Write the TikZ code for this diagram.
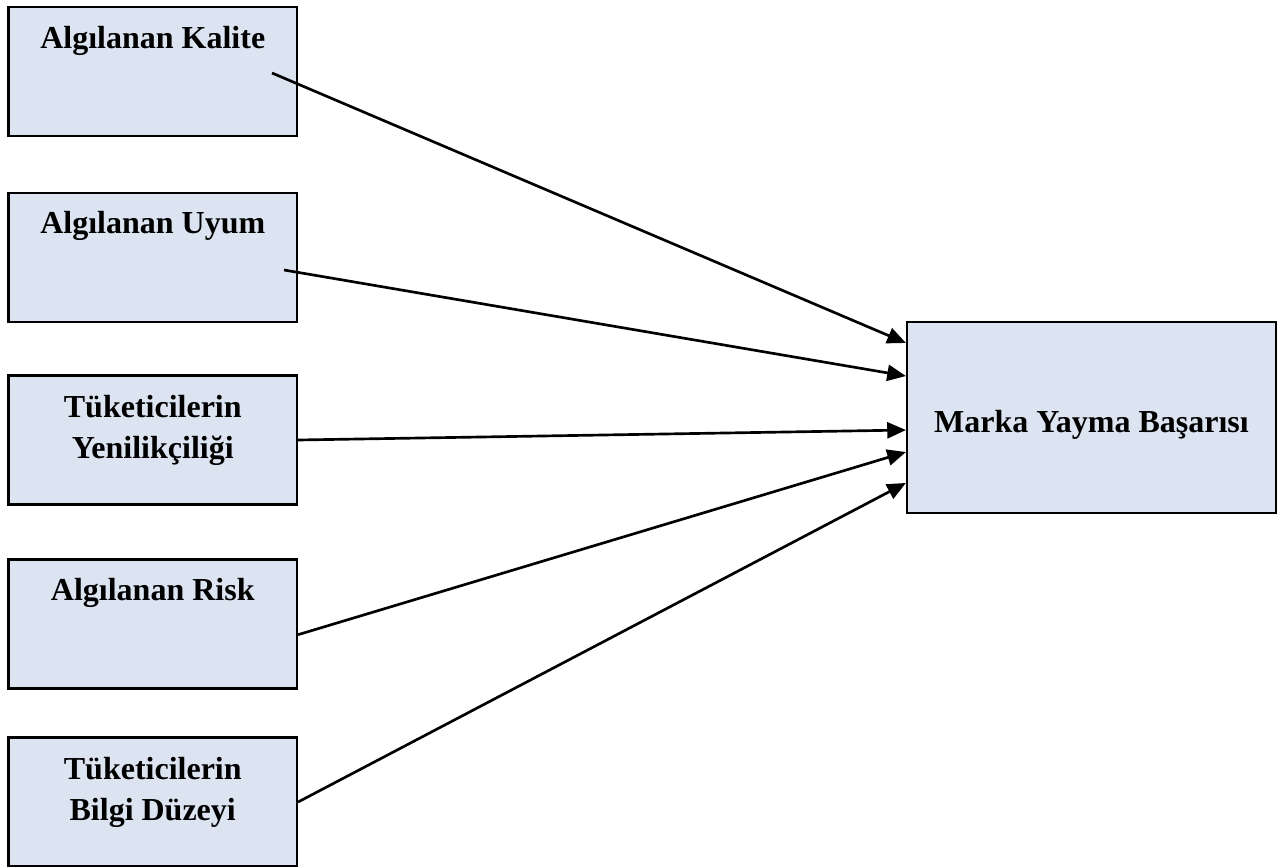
\documentclass[tikz,border=0pt]{standalone}
\usepackage{fontspec}
\setmainfont{Liberation Serif}
\usetikzlibrary{arrows.meta}

\begin{document}
\begin{tikzpicture}[x=0.75pt, y=-0.75pt,
  factor/.style={draw, line width=1.6pt, fill=boxblue, minimum width=216.4pt, minimum height=96.75pt, inner sep=0pt},
  ftext/.style={font=\bfseries\fontsize{24}{30.75}\selectfont, align=center, inner sep=0pt, anchor=base},
  link/.style={line width=2pt, -{Triangle[length=14pt, width=12pt]}}]
\definecolor{boxblue}{HTML}{DBE4F0}
\useasboundingbox (0,0) rectangle (1286,867);

% Factor boxes (left side)
\node[factor] (kalite) at (152.75,71.5) {};
\node[factor] (uyum) at (152.75,257.5) {};
\node[factor] (yenilik) at (152.75,440) {};
\node[factor] (risk) at (152.75,624) {};
\node[factor] (bilgi) at (152.75,802) {};

% Box texts (two-line texts sit on their last line)
\node[ftext] (kaliteT) at (152.75,49) {Algılanan Kalite};
\node[ftext] (uyumT) at (152.75,233) {Algılanan Uyum};
\node[ftext] (yenilikT) at (152.75,458) {Tüketicilerin\\Yenilikçiliği};
\node[ftext] (riskT) at (152.75,600) {Algılanan Risk};
\node[ftext] (bilgiT) at (152.75,820) {Tüketicilerin\\Bilgi Düzeyi};

% Outcome box (right side)
\node[draw, line width=1.6pt, fill=boxblue, minimum width=276.75pt, minimum height=143.25pt] (marka) at (1091.5,417.5) {};
\node[ftext] (markaT) at (1091.5,432) {Marka Yayma Başarısı};

% Arrow starts inside the upper boxes
\coordinate (kaliteS) at (272,73);
\coordinate (uyumS) at (284,270);

% Arrows
\draw[link] (kaliteS) -- ([yshift=55.9pt]marka.west);
\draw[link] (uyumS) -- ([yshift=31.1pt]marka.west);
\draw[link] (yenilik.east) -- ([yshift=-9.4pt]marka.west);
\draw[link] ([yshift=-8pt]risk.east) -- ([yshift=-25.9pt]marka.west);
\draw[link] (bilgi.east) -- ([yshift=-49.1pt]marka.west);

\end{tikzpicture}
\end{document}
